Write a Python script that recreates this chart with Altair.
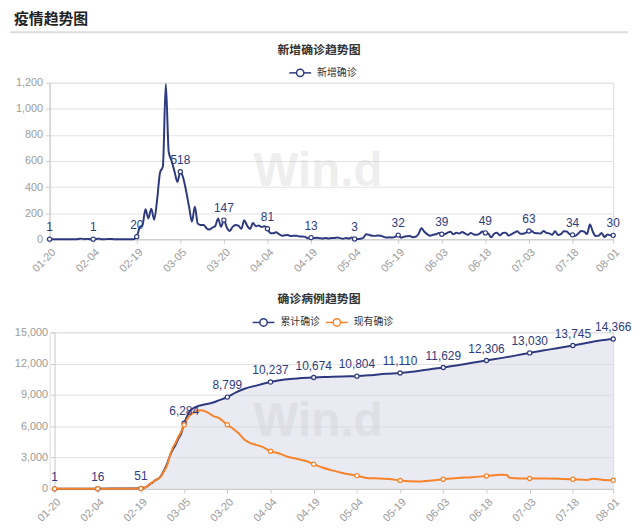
import altair as alt
import pandas as pd

# ---------------- data ----------------
START = "2020-01-20"

DAILY_NEW = (
    [1, 0, 0, 0, 1, 0, 1, 1, 0, 0, 2, 5, 1, 3, 0, 1]                       # 01-20 .. 02-04
    + [2, 5, 0, 0, 2, 2, 1, 0, 0, 0, 0, 1, 1, 1, 20]                        # .. 02-19
    + [90, 110, 230, 160, 235, 150, 300, 510, 560, 1190, 670, 600, 520, 440, 518]  # .. 03-05
    + [470, 370, 250, 135, 250, 120, 110, 110, 85, 75, 90, 100, 160, 95, 147]      # .. 03-20
    + [90, 64, 95, 110, 105, 80, 145, 105, 78, 125, 100, 105, 94, 100, 81]        # .. 04-04
    + [47, 47, 53, 39, 27, 30, 32, 25, 27, 27, 22, 22, 18, 8, 13]                 # .. 04-19
    + [9, 11, 8, 6, 10, 6, 10, 10, 14, 9, 4, 9, 6, 13, 3]                         # .. 05-04
    + [2, 4, 12, 38, 34, 27, 26, 29, 27, 19, 13, 15, 13, 20, 32]                  # .. 05-19
    + [12, 20, 23, 25, 16, 19, 40, 84, 58, 39, 27, 35, 38, 49, 39]                # .. 06-03
    + [39, 51, 57, 38, 50, 45, 56, 45, 34, 49, 37, 34, 43, 59, 49]                # .. 06-18
    + [45, 15, 42, 50, 30, 48, 51, 28, 39, 51, 62, 42, 43, 51, 63]                # .. 07-03
    + [61, 48, 46, 44, 63, 50, 45, 35, 62, 33, 39, 61, 60, 39, 34]                # .. 07-18
    + [26, 45, 63, 59, 41, 113, 58, 25, 28, 48, 18, 36, 31, 30]                   # .. 08-01
)

LABEL_DAYS = [0, 15, 30, 45, 60, 75, 90, 105, 120, 135, 150, 165, 180, 194]

CUM_DAYS = [0, 10, 15, 20, 25, 30, 31, 32, 33, 34, 35, 36, 37, 38, 39, 40, 41, 42, 43, 44, 45,
            46, 47, 48, 50, 52, 55, 57, 60, 63, 66, 70, 75, 80, 85, 90, 95, 100, 105,
            110, 115, 120, 125, 130, 135, 140, 145, 150, 155, 160, 165, 170, 175, 180,
            186, 190, 194]
CUM_VALUES = [1, 5, 16, 27, 28, 51, 104, 204, 433, 602, 833, 977, 1261, 1766, 2337, 3150,
              3736, 4212, 4812, 5328, 6284, 6950, 7450, 7700, 7950, 8080, 8280, 8480, 8799,
              9240, 9600, 9900, 10237, 10480, 10600, 10674, 10730, 10780, 10804, 10900,
              11030, 11110, 11250, 11450, 11629, 11850, 12080, 12306, 12530, 12770, 13030,
              13280, 13500, 13745, 14050, 14250, 14366]

ACT_DAYS = [0, 15, 30, 31, 32, 33, 34, 35, 36, 37, 38, 39, 40, 41, 42, 43, 44, 45, 46, 47, 48,
            49, 51, 53, 55, 57, 60, 62, 64, 66, 68, 70, 72, 75, 78, 81, 84, 87, 90, 93, 96,
            100, 105, 109, 113, 117, 120, 126, 130, 135, 140, 145, 150, 155, 157, 158, 162,
            165, 170, 175, 180, 185, 187, 190, 194]
ACT_VALUES = [1, 15, 40, 90, 190, 450, 620, 830, 980, 1200, 1700, 2200, 3100, 3900, 4400,
              5000, 5500, 6120, 6650, 7050, 7250, 7400, 7530, 7350, 7000, 6800, 6150, 5760,
              5300, 4700, 4380, 4220, 4050, 3610, 3390, 3080, 2880, 2700, 2370, 2050, 1800,
              1520, 1270, 1020, 1000, 930, 800, 700, 780, 920, 1040, 1120, 1240, 1360, 1330,
              1060, 1000, 990, 990, 970, 920, 860, 980, 880, 820]

TICK_DATES = [(2020, 1, 20), (2020, 2, 4), (2020, 2, 19), (2020, 3, 5), (2020, 3, 20),
              (2020, 4, 4), (2020, 4, 19), (2020, 5, 4), (2020, 5, 19), (2020, 6, 3),
              (2020, 6, 18), (2020, 7, 3), (2020, 7, 18), (2020, 8, 1)]

Y1_TICKS = [0, 200, 400, 600, 800, 1000, 1200]
Y2_TICKS = [0, 3000, 6000, 9000, 12000, 15000]

assert len(DAILY_NEW) == 195
assert len(CUM_DAYS) == len(CUM_VALUES)
assert len(ACT_DAYS) == len(ACT_VALUES)

dates = pd.date_range(START, periods=len(DAILY_NEW), freq="D")
df_new = pd.DataFrame({"date": dates, "value": DAILY_NEW})
df_new_pts = df_new.iloc[LABEL_DAYS]
df_cum = pd.DataFrame({"date": dates[CUM_DAYS], "value": CUM_VALUES})
df_act = pd.DataFrame({"date": dates[ACT_DAYS], "value": ACT_VALUES})
label_dates = set(dates[LABEL_DAYS])
df_cum_pts = df_cum[df_cum["date"].isin(label_dates)]
df_act_pts = df_act[df_act["date"].isin(label_dates)]

# ---------------- style ----------------
NAVY = "#2e3a80"
ORANGE = "#f7832a"
AREA = "#d3d6e5"
GRID = "#e2e2e2"
AXIS = "#c9c9c9"
LABEL = "#9b9b9b"
NUMF = "Liberation Sans"
CJK = "Noto Sans CJK SC"
W = 569
H = 158

tick_dt = [alt.DateTime(year=y, month=m, date=d) for y, m, d in TICK_DATES]
x_dom = [tick_dt[0], tick_dt[-1]]


def x_enc(x_range=None):
    sc = alt.Scale(domain=x_dom, nice=False)
    if x_range is not None:
        sc = alt.Scale(domain=x_dom, nice=False, range=x_range)
    return alt.X(
        "date:T",
        scale=sc,
        axis=alt.Axis(values=tick_dt, tickCount=len(tick_dt), format="%m-%d",
                      labelAngle=-45, labelColor=LABEL,
                      labelFontSize=11, labelFont=NUMF, domainColor=AXIS, tickColor=AXIS,
                      tickSize=4, grid=False, labelPadding=3, labelOverlap=False,
                      labelFlush=False, labelBound=False, title=None),
    )


def y_enc(dom, ticks, offset=0):
    return alt.Y(
        "value:Q",
        scale=alt.Scale(domain=dom, nice=False),
        axis=alt.Axis(values=ticks, tickCount=len(ticks), format=",d", labelColor=LABEL,
                      labelFontSize=11, labelFont=NUMF, domainColor=AXIS, tickColor=AXIS,
                      tickSize=4, gridColor=GRID, labelPadding=3, labelOverlap=False,
                      labelFlush=False, offset=offset, title=None),
    )


def text_layer(txt, x, y, size=12, color="#333333", weight="normal", align="center",
               font=CJK, opacity=1.0, baseline="middle"):
    return alt.Chart(pd.DataFrame({"t": [txt]})).mark_text(
        fontSize=size, color=color, fontWeight=weight, align=align, font=font,
        opacity=opacity, baseline=baseline
    ).encode(x=alt.value(x), y=alt.value(y), text="t:N")


def legend_item(x_center, y, color, label):
    line = alt.Chart(pd.DataFrame({"a": [0]})).mark_rule(color=color, strokeWidth=1.5).encode(
        x=alt.value(x_center - 11), x2=alt.value(x_center + 11), y=alt.value(y))
    dot = alt.Chart(pd.DataFrame({"a": [0]})).mark_point(
        shape="circle", filled=True, fill="white", stroke=color, strokeWidth=1.5, size=55,
        opacity=1).encode(x=alt.value(x_center), y=alt.value(y))
    txt = text_layer(label, x_center + 17, y, size=10, color="#333333", align="left")
    return [line, dot, txt]


# ---------------- chart 1 ----------------
ox1 = 48
oy1 = 83
X1 = x_enc()
Y1 = y_enc([0, 1200], Y1_TICKS)
line1 = alt.Chart(df_new).mark_line(color=NAVY, strokeWidth=2, interpolate="monotone").encode(
    x=X1, y=Y1)
pts1 = alt.Chart(df_new_pts).mark_point(
    shape="circle", filled=True, fill="white", stroke=NAVY, strokeWidth=1.2, size=18,
    opacity=1).encode(x=X1, y=Y1)
lab1 = alt.Chart(df_new_pts).mark_text(
    dy=-12, fontSize=12, color=NAVY, font=NUMF).encode(
    x=X1, y=Y1, text=alt.Text("value:Q", format=",d"))

header = text_layer("疫情趋势图", 12 - ox1, 19 - oy1, size=15, color="#222222",
                    weight="bold", align="left")
header_rule = alt.Chart(pd.DataFrame({"a": [0]})).mark_rule(color="#dddddd", strokeWidth=2).encode(
    x=alt.value(8 - ox1), x2=alt.value(632 - ox1), y=alt.value(32 - oy1))
title1 = text_layer("新增确诊趋势图", 320 - ox1, 50 - oy1, size=12, color="#333333", weight="bold")
wm1 = text_layer("Win.d", 319 - ox1, 187 - oy1, size=48, color="#cfcfcf", weight="bold",
                 font=NUMF, opacity=0.35, baseline="alphabetic")

chart1 = alt.layer(
    wm1, line1, pts1, lab1, header, header_rule, title1,
    *legend_item(301 - ox1, 73 - oy1, NAVY, "新增确诊"),
).properties(width=W, height=H)

# ---------------- chart 2 ----------------
ox2 = 48
oy2 = 332
SHIFT2 = 5
X2 = x_enc([SHIFT2, W])
Y2 = y_enc([0, 15000], Y2_TICKS, offset=-SHIFT2)
area2 = alt.Chart(df_cum).mark_area(color=AREA, opacity=0.5, interpolate="monotone").encode(
    x=X2, y=Y2)
cum_line = alt.Chart(df_cum).mark_line(color=NAVY, strokeWidth=2, interpolate="monotone").encode(
    x=X2, y=Y2)
act_line = alt.Chart(df_act).mark_line(color=ORANGE, strokeWidth=2, interpolate="monotone").encode(
    x=X2, y=Y2)
cum_pts = alt.Chart(df_cum_pts).mark_point(
    shape="circle", filled=True, fill="white", stroke=NAVY, strokeWidth=1.2, size=18,
    opacity=1).encode(x=X2, y=Y2)
act_pts = alt.Chart(df_act_pts).mark_point(
    shape="circle", filled=True, fill="white", stroke=ORANGE, strokeWidth=1.2, size=18,
    opacity=1).encode(x=X2, y=Y2)
lab2 = alt.Chart(df_cum_pts).mark_text(
    dy=-12, fontSize=12, color=NAVY, font=NUMF).encode(
    x=X2, y=Y2, text=alt.Text("value:Q", format=",d"))
title2 = text_layer("确诊病例趋势图", 320 - ox2, 298 - oy2, size=12, color="#333333", weight="bold")
wm2 = text_layer("Win.d", 319 - ox2, 437 - oy2, size=48, color="#cfcfcf", weight="bold",
                 font=NUMF, opacity=0.35, baseline="alphabetic")

chart2 = alt.layer(
    area2, wm2, cum_line, act_line, cum_pts, act_pts, lab2, title2,
    *legend_item(264 - ox2, 322 - oy2, NAVY, "累计确诊"),
    *legend_item(338 - ox2, 322 - oy2, ORANGE, "现有确诊"),
).properties(width=W, height=H)

chart = alt.vconcat(chart1, chart2, spacing=17).properties(
    padding={"left": 0, "top": 1, "right": 0, "bottom": 0}
).configure_view(stroke=None).configure(background="white")

chart.save("out.html", embed_options={"renderer": "svg", "actions": False})
